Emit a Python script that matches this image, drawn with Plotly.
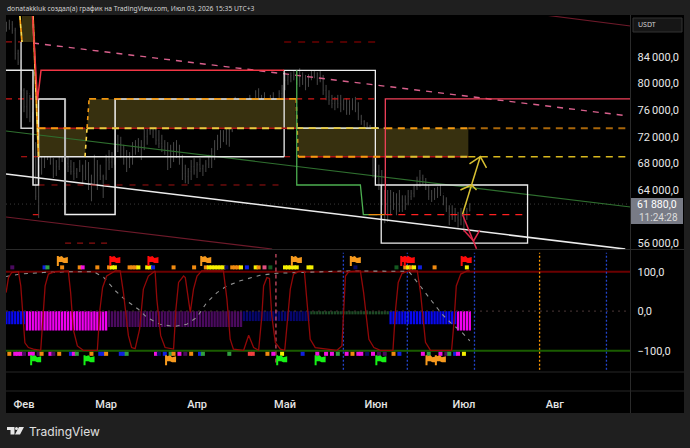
import plotly.graph_objects as go

W, H = 690, 448

# Days are counted from 1 February; negative values fall in late January.
month_days = [0, 28, 59, 89, 120, 150, 181]
month_labels = ["Фев", "Мар", "Апр", "Май", "Июн", "Июл", "Авг"]

candle_days = list(range(-6, 153))
first_open = 88000
highs = [89300, 89600, 89400, 88400, 85100, 83600,
         79300, 79000, 78300, 75700, 71200, 67800, 71800, 71500, 71100, 70000, 68800, 68500, 70000, 70800,
         70300, 69700, 68500, 68200, 67300, 68500, 67800, 68500, 68200, 66300, 69300, 68500, 67800, 66300,
         69300, 70000, 69700, 70500, 72300, 72000, 70800, 70000, 69700, 71200, 71500, 71800, 71500, 73300,
         73800, 75700, 74800, 73800, 73000, 72300, 71500, 71200, 70800, 71200, 71500, 70800, 69300, 67800,
         67300, 68500, 68800, 68200, 68800, 67800, 68500, 69300, 70300, 71500, 72300, 73000, 73000, 73300,
         74200, 76000, 78000, 76800, 76300, 76000, 76800, 78300, 77500, 79000, 79300, 78300, 78700, 77500,
         78300, 78700, 77800, 79000, 79800, 81700, 81300, 81700, 82000, 82000, 82300, 81700, 81300, 81400,
         82000, 82000, 81700, 82000, 81300, 79800, 79000, 78300, 78000, 78300, 78300, 77800, 77800, 77500,
         77800, 78000, 77200, 75300, 74500, 74200, 73800, 72300, 70000, 67800, 67000, 64000, 64000, 64000,
         63700, 63500, 64000, 63200, 63200, 64000, 64000, 64800, 66000, 67000, 66300, 65800, 64800, 64000,
         64300, 64500, 64800, 63200, 62900, 61700, 61700, 61300, 60700, 61300, 60700, 61300, 62000]
lows = [87800, 88100, 87500, 83600, 82800, 79000,
        75700, 74800, 74200, 70000, 62500, 59800, 66300, 67300, 68500, 67800, 65800, 66100, 67000, 68200,
        67000, 66700, 66300, 65500, 65800, 66700, 65000, 65500, 64000, 62300, 64800, 64000, 65500, 62800,
        65500, 67000, 67300, 67800, 69700, 68800, 67800, 66700, 67300, 67800, 69300, 69700, 68500, 70000,
        70800, 72300, 71800, 70800, 70300, 69700, 69300, 67000, 67300, 68200, 68800, 67800, 65500, 65000,
        64900, 65500, 66300, 65800, 66700, 66100, 66700, 67300, 67300, 68500, 70000, 70300, 71200, 70800,
        70500, 72700, 73800, 73300, 73800, 73800, 74200, 75300, 74800, 75700, 76300, 76000, 76800, 75300,
        75700, 75700, 74800, 76300, 77500, 79000, 79800, 80200, 80500, 79800, 79500, 79800, 79000, 79500,
        80500, 80800, 79800, 80200, 78300, 77500, 76800, 76300, 76000, 76300, 75700, 76000, 75300, 75300,
        76000, 75700, 74500, 73800, 73500, 73300, 72300, 65900, 65800, 64000, 61700, 59000, 59200, 60200,
        61000, 60200, 60700, 60700, 61000, 61700, 62500, 62900, 64000, 64500, 64800, 64000, 62500, 62200,
        62500, 62800, 63100, 61700, 60700, 58700, 59500, 59200, 58300, 58700, 57700, 59500, 60800]
closes = [88500, 88900, 88000, 84500, 83200, 79000,
          76500, 78500, 75000, 71000, 63000, 67000, 70500, 69000, 70000, 68000, 66500, 67500, 69000, 70000,
          68000, 67500, 66800, 66500, 67000, 67500, 66000, 67500, 64800, 65500, 67800, 66200, 66000, 65800,
          68500, 68200, 69000, 69800, 71000, 70000, 68500, 68000, 68800, 70000, 70500, 70200, 70500, 72000,
          73000, 73500, 73000, 71500, 71000, 70500, 70000, 68500, 69500, 70000, 69500, 68000, 66500, 66000,
          66800, 67500, 67000, 67800, 67200, 67600, 67900, 68800, 69800, 70500, 71000, 71800, 72000, 71500,
          73000, 74500, 75000, 74500, 75000, 75200, 76000, 76500, 76000, 77800, 77000, 77500, 77000, 76500,
          77500, 76500, 77000, 78500, 79200, 80500, 81000, 81200, 81000, 80500, 81000, 80500, 80000, 81000,
          81500, 81000, 80500, 80800, 79000, 78000, 77500, 77000, 77500, 77000, 76800, 77200, 76000, 76800,
          77200, 76000, 75000, 74300, 73900, 73500, 72500, 67000, 66800, 65000, 62500, 60500, 61500, 62500,
          62000, 62800, 61500, 62500, 62000, 63000, 63500, 64500, 65500, 65800, 65200, 64700, 63000, 63500,
          63800, 63200, 63500, 62000, 61200, 60000, 60500, 59800, 59500, 60200, 59200, 60800, 61880]
opens = [first_open] + closes[:-1]
last_price = closes[-1]

# Horizontal price levels the boxes and dashes snap to.
L_TOP, L86, L82, L777, L733, L69, L6475, L603, L56 = 90166, 86260, 82000, 77700, 73300, 69000, 64750, 60300, 56000
X_L, X_R = -6.14, 206.8

# Oscillator pane.
osc_days = [-6.1, -5.3, -4.2, -1.9, -1.1, -0.2, 0.3, 1.5, 3.2, 5.7, 6.4, 7.2, 8.3, 10.6, 15.1, 15.9, 16.8, 18.2,
            20.2, 25.0, 25.9, 26.8, 28.2, 31.1, 32.8, 33.9, 35.6, 36.7, 37.9, 39.4, 40.7, 42.4, 44.7, 45.3, 46.6,
            48.1, 51.0, 51.8, 52.7, 54.4, 55.0, 56.7, 57.8, 59.0, 60.6, 68.0, 69.2, 70.3, 71.4, 74.9, 76.6, 78.3,
            80.0, 81.1, 81.7, 82.8, 83.7, 84.5, 85.7, 87.4, 88.9, 89.9, 90.8, 91.9, 93.6, 95.6, 96.5, 97.6, 99.3,
            106.7, 108.4, 109.2, 109.6, 110.7, 114.7, 115.8, 117.6, 119.3, 121.5, 125.8, 126.7, 127.6, 128.9,
            131.2, 134.1, 135.2, 136.9, 138.6, 145.8, 146.6, 147.4, 148.9, 151.1, 152.0]
osc_vals = [47, 85, 98, 100, 64, -46, -80, -92, -96, -99, -20, 64, 94, 100, 102, 47, -46, -88,
            -99, -99, 5, 60, 89, 102, 102, 47, -62, -92, -95, -46, 56, 89, 102, 30, -62,
            -92, -96, 5, 73, 89, 85, -3, 56, 89, 102, 102, 30, -71, -96, -99, -61, -92,
            -99, -12, 64, 85, 83, -12, -79, -96, -99, -12, 56, 94, 101, 101, 22, -71, -92,
            -99, -88, 30, 89, 100, 102, 47, -71, -92, -99, -99, 5, 73, 96,
            102, 102, 47, -79, -99, -99, -29, 64, 94, 102, 102]
signal_days = [-6.1, -1.4, 6.6, 14.6, 23.7, 27.1, 31.1, 34.5, 39.0, 41.9, 46.4, 51.0, 55.5, 58.9, 62.3, 65.8, 69.2,
               73.7, 80.5, 86.2, 94.2, 109.6, 131.2, 132.4, 135.8, 139.2, 142.6, 146.0, 148.9, 152.0]
signal_vals = [88, 94, 98, 100, 100, 86, 52, 29, 5, -16, -33, -39, -33, -16, 22, 47, 64,
               77, 91, 96, 98, 102, 101, 90, 57, 24, -8, -33, -50, -75]

hist_starts = [-6, 1, 29, 75, 98, 125, 148]
hist_ends = [0, 28, 74, 97, 124, 147, 152]
hist_values = [-33, -49, -40, -25, -8, -33, -49]
hist_colors = ["#0808f0", "#f000f0", "#4a0a5e", "#06066e", "#1e4a26", "#0808f0", "#f000f0"]

ORG, YEL, BLU, MAG, PUR, GRN, NAV, PNK, RED = ("#f08a10", "#f5f000", "#1020e0", "#f010e0", "#4a0a5e", "#30a040",
                                                "#0a0a60", "#e05080", "#f04040")
top_days = [-4, 7, 8, 13, 19, 20, 25, 29, 30, 31, 36, 37, 38, 39, 42, 43, 44, 51, 58, 62, 63, 64, 65, 66, 67, 68, 69,
            71, 72, 73, 74, 76, 79, 80, 82, 84, 89, 90, 91, 92, 93, 97, 98, 113, 127, 130, 131, 132, 133, 135, 140, 151]
top_colors = [PUR, BLU, GRN, ORG, ORG, MAG, ORG, ORG, YEL, YEL, ORG, ORG, ORG, YEL, YEL, YEL, BLU, ORG, ORG, ORG, YEL,
              YEL, YEL, YEL, YEL, YEL, NAV, ORG, ORG, ORG, YEL, BLU, YEL, ORG, PNK, "#145a20", YEL, YEL, YEL, YEL, YEL,
              YEL, YEL, NAV, "#145a20", ORG, YEL, ORG, YEL, BLU, ORG, YEL]
bottom_days = [-5, -3, -2, -1, 0, 2, 3, 5, 6, 9, 10, 12, 16, 17, 18, 23, 26, 27, 28, 33, 34, 35, 45, 46, 48, 50, 51,
               53, 55, 57, 60, 61, 70, 77, 78, 83, 85, 88, 95, 100, 103, 105, 107, 110, 112, 114, 115, 117, 119, 121,
               123, 126, 128, 136, 138, 142, 144, 145, 147, 148, 150]
bottom_colors = [ORG, MAG, MAG, MAG, PUR, MAG, MAG, PUR, ORG, MAG, PUR, ORG, BLU, MAG, GRN, ORG, BLU, BLU, ORG, BLU, BLU,
                 GRN, MAG, NAV, BLU, GRN, ORG, MAG, PUR, ORG, BLU, GRN, GRN, RED, RED, ORG, MAG, YEL, BLU, MAG, MAG,
                 MAG, GRN, MAG, ORG, MAG, MAG, NAV, MAG, PUR, PUR, ORG, BLU, MAG, GRN, MAG, PUR, GRN, BLU, MAG, YEL]

flag_top_days = [12.9, 30.8, 43.8, 61.8, 92.7, 112.8, 130, 131.2, 150.6]
flag_top_colors = ["#f79a1e", "#ff0a0a", "#ff0a0a", "#f79a1e", "#f79a1e", "#f79a1e", "#ff0a0a", "#ff0a0a", "#ff0a0a"]
flag_bottom_days = [3.8, 22, 49.8, 87.7, 100.8, 121.5, 138.6, 141.8]
flag_bottom_colors = ["#16f016", "#16f016", "#f79a1e", "#16f016", "#16f016", "#16f016", "#f79a1e", "#f79a1e"]

session_days = [108.9, 130.7, 153.6, 175.8, 198.6]
session_colors = ["#2244cc", "#2244cc", "#2244cc", "#ff9800", "#2244cc"]
signal_marker_day = 85.9

fig = go.Figure()


def path(xs, ys, color, width=1.0, dash="solid", axis="y"):
    fig.add_trace(go.Scatter(x=xs, y=ys, mode="lines", xaxis="x" if axis == "y" else "x2", yaxis=axis,
                             line=dict(color=color, width=width, dash=dash), hoverinfo="skip", showlegend=False))


def cloud(xs, ys):
    fig.add_trace(go.Scatter(x=xs, y=ys, mode="lines", fill="toself", fillcolor="#37300f",
                             line=dict(width=0), hoverinfo="skip", showlegend=False))


# Shaded zones sit beneath the bars.
cloud([-0.7, 3.07, 3.9, -0.7], [L_TOP, L_TOP, L86, L86])
cloud([4.95, 21.4, 20.8, 4.95], [L733, L733, L69, L69])
cloud([21.5, 22.2, 92.5, 92.8], [L733, L777, L777, L733])
cloud([93.5, 151.5, 151.5, 93.5], [L733, L733, L69, L69])

# Daily price bars.
fig.add_trace(go.Ohlc(x=candle_days, open=opens, high=highs, low=lows, close=closes, tickwidth=0.12,
                      increasing=dict(line=dict(color="#484848", width=1)),
                      decreasing=dict(line=dict(color="#484848", width=1)),
                      hoverinfo="skip", showlegend=False))

# Last price guide.
path([X_L, X_R], [last_price, last_price], "#3a3a3a", 1, "1px,3px")

# Trend channels.
path([X_L, X_R], [72870, 61440], "#2f6f2f", 1.1)
path([3.07, 206.1], [86100, 75130], "#d9608c", 1.4, "6px,6px")
path([X_L, 84.6], [59940, 55120], "#6e1a2a", 1.1)
path([177.8, X_R], [90300, 88660], "#6e1a2a", 1.1)
path([X_L, 205], [66400, 55120], "#ececec", 1.6)

# Dashed pivot levels.
path([X_L, -1], [L86, L86], "#a01010", 1.2, "6px,6px")
path([88.7, 119.8], [L86, L86], "#6a0000", 1.4, "7px,7px")
path([X_L, 3.07], [L777, L777], "#d41818", 1.2, "6px,6px")
path([88.7, 119.8], [L777, L777], "#d41818", 1.2, "6px,6px")
path([-1, 4.95], [L69, L69], "#d41818", 1.2, "6px,6px")
path([88.7, 92.5], [L69, L69], "#d41818", 1.2, "6px,6px")
path([4.95, 88.7], [L6475, L6475], "#a01212", 1, "6px,7px")
path([3, 4.95], [L603, L603], "#d41818", 1.2)
path([123.2, 171.7], [L603, L603], "#ff2020", 1.3, "7px,6px")
path([14, 28.7], [L56, L56], "#8a1010", 1.2, "6px,6px")

# Stepped range boxes.
path([-1, -1, 3.07], [L86, L733, L733], "#cfcfcf", 1.5)
path([92.8, 121], [L733, L733], "#d8d8c0", 1.6)
path([X_L, 3.07, 3.07, 4.95, 4.95, 88.7], [L82, L82, L6475, L6475, L69, L69], "#e8e8e8", 1.5)
path([4.95, 4.95, 14, 14, 31.06, 31.06, 88.7], [L69, L777, L777, L603, L603, L777, L777], "#f2f2f2", 1.5)
path([14, 14], [L777, L603], "#b8b8b8", 2)
path([88.7, 88.7, 119.8, 119.8, 171.7, 171.7, 121.8, 121.8],
     [L69, L82, L82, L6475, L6475, L56, L56, L6475], "#eeeeee", 1.3)

# Zone borders: a red base line with coloured dashes laid over it.
ZONE_DASH = "7px,5.5px"
for xs, ys, dash_color in (([4.95, 20.8], [L733, L733], "#f59a12"),
                           ([21.5, 92.8], [L733, L733], "#e8cc40"),
                           ([93.5, 123.2], [L69, L69], "#f59a12"),
                           ([123.2, 151.5], [L69, L69], "#dcc030")):
    path(xs, ys, "#b01414", 1.5)
    path(xs, ys, dash_color, 2, ZONE_DASH)
path([22.2, 92.8], [L777, L777], "#f0960f", 1.6, ZONE_DASH)
path([92.8, 123.2], [L733, L733], "#e8cc40", 1.8, ZONE_DASH)
path([123.2, 151.5], [L733, L733], "#f59a12", 2, ZONE_DASH)
path([151.5, 206.8], [L733, L733], "#a8660a", 2, ZONE_DASH)
path([151.5, 206.8], [L69, L69], "#d8b81e", 1.6, ZONE_DASH)

# Slanted zone edges alternate yellow and orange.
for xs, ys in (([3.07, 4.95], [L_TOP, L69]),
               ([-1.4, -0.7], [L_TOP, L86])):
    path(xs, ys, "#ffd84a", 1.8, "4px,4px")
    path(xs, ys, "#f59a12", 1.8, "0px,4px,4px,0px")
path([20.8, 21.5], [L69, L733], "#ffd84a", 1.6, "4px,4px")
path([21.5, 22.2], [L733, L777], "#f59a12", 1.6, "4px,4px")
path([92.8, 93.5], [L777, L69], "#f59a12", 1.6, "4px,4px")

# Solid red and green step lines.
path([2.9, 4.6, 5.8, 88.7], [L_TOP, 77500, L82, L82], "#f23645", 1.5)
path([123.2, 123.2, X_R], [L603, L777, L777], "#f2405a", 1.3)
path([93, 93, 114.7, 115.7, 120.5], [L82, L6475, L6475, L603, L603], "#4caf50", 1.3)
path([117.5, 123], [L603, L603], "#f08a10", 1.3)

# Projection arrows.
path([149.5, 152.6], [60300, 64750], "#d8c032", 1.5)
path([148.8, 152.6, 154.3], [64000, 64750, 64000], "#d8c032", 1.5)
path([152.6, 155.6], [64750, 69030], "#d8c032", 1.5)
path([151.9, 155.6, 157.7], [67930, 69030, 67330], "#d8c032", 1.5)
path([149.5, 154.3], [60300, 55150], "#e0284a", 1.5)
path([149.9, 153.3, 155.4], [57970, 56330, 57970], "#e0284a", 1.5)

# Oscillator pane: histogram first, then bounds, lines and signal rows.
for start, end, value, color in zip(hist_starts, hist_ends, hist_values, hist_colors):
    days = list(range(start, end + 1))
    fig.add_trace(go.Bar(x=days, y=[value] * len(days), xaxis="x2", yaxis="y2", width=0.78,
                         marker=dict(color=color, line=dict(width=0)), hoverinfo="skip", showlegend=False))

path([X_L, X_R], [0, 0], "#3c2c2c", 1.2, "2px,4px", axis="y2")
path([X_L, X_R], [100, 100], "#6b0000", 2, axis="y2")
path([X_L, X_R], [-100, -100], "#1a5c00", 2, axis="y2")
for day, color in zip(session_days, session_colors):
    path([day, day], [-148, 148], color, 1.3, "2px,2px", axis="y2")
path([signal_marker_day, signal_marker_day], [-130, 145], "#d9506c", 1.2, "4px,3px", axis="y2")
path(signal_days, signal_vals, "#909090", 1.1, "4px,5px", axis="y2")
path(osc_days, osc_vals, "#920808", 1.3, axis="y2")

for days, colors, level in ((top_days, top_colors, 111), (bottom_days, bottom_colors, -108)):
    fig.add_trace(go.Scatter(x=days, y=[level] * len(days), mode="markers", xaxis="x2", yaxis="y2",
                             marker=dict(symbol="square", size=4, color=colors, line=dict(width=0)),
                             hoverinfo="skip", showlegend=False))


def px(x):
    return x / W


def py(y):
    return 1 - y / H


# Flag outline, sized in screen pixels around its anchor (y grows upward).
FLAG_OUTLINE = "M -5 -5 L -5 5 L -3 5 L -3 4 L 0 5 L 2 3 L 6 4 L 6 -2 L 2 -2 L 0 -1 L -3 -1 L -3 -5 Z"
flag_levels = [(flag_top_days, flag_top_colors, 127), (flag_bottom_days, flag_bottom_colors, -124)]
flag_shapes = [dict(type="path", xref="x2", yref="y2", xsizemode="pixel", ysizemode="pixel",
                    xanchor=day, yanchor=level, path=FLAG_OUTLINE, fillcolor=color, line=dict(width=0))
               for days, colors, level in flag_levels for day, color in zip(days, colors)]

price_ticks = [56000, 64000, 68000, 72000, 76000, 80000, 84000]
price_labels = ["56\u2009000,0", "64\u2009000,0", "68\u2009000,0", "72\u2009000,0", "76\u2009000,0", "80\u2009000,0",
                "84\u2009000,0"]
osc_ticks = [-100, 0, 100]
osc_labels = ["\u2212100,0", "0,0", "100,0"]

PANE_L, PANE_R, PANE_T, PANE_B = 6, 630.5, 16, 249
SUB_T, SUB_B = 250, 372

shapes = [
    dict(type="rect", xref="paper", yref="paper", x0=px(6), x1=px(684), y0=py(413), y1=py(15),
         fillcolor="#000000", line=dict(width=0), layer="below"),
    dict(type="line", xref="paper", yref="paper", x0=px(630.5), x1=px(630.5), y0=py(413), y1=py(15),
         line=dict(color="#2a2a2a", width=1)),
    dict(type="line", xref="paper", yref="paper", x0=px(6), x1=px(684), y0=py(249.5), y1=py(249.5),
         line=dict(color="#2a2a2a", width=1)),
    dict(type="line", xref="paper", yref="paper", x0=px(6), x1=px(684), y0=py(372), y1=py(372),
         line=dict(color="#262626", width=1)),
    dict(type="line", xref="paper", yref="paper", x0=px(6), x1=px(684), y0=py(391), y1=py(391),
         line=dict(color="#262626", width=1)),
    # Currency selector and last-price badge on the scale.
    dict(type="rect", xref="paper", yref="paper", x0=px(633), x1=px(682), y0=py(32), y1=py(18),
         fillcolor="#161616", line=dict(color="#333333", width=1)),
    dict(type="rect", xref="paper", yref="paper", x0=px(631), x1=px(683), y0=py(224), y1=py(198),
         fillcolor="#787b86", line=dict(width=0)),
    # TradingView mark.
    dict(type="path", xref="paper", yref="paper",
         path=f"M {px(7)} {py(427)} L {px(14.5)} {py(427)} L {px(14.5)} {py(434.5)} L {px(10.5)} {py(434.5)} "
              f"L {px(10.5)} {py(430)} L {px(7)} {py(430)} Z",
         fillcolor="#e6e6e6", line=dict(width=0)),
    dict(type="path", xref="paper", yref="paper",
         path=f"M {px(19)} {py(427)} L {px(24)} {py(427)} L {px(20)} {py(434.5)} L {px(15)} {py(434.5)} Z",
         fillcolor="#e6e6e6", line=dict(width=0)),
    dict(type="circle", xref="paper", yref="paper", x0=px(15), x1=px(18), y0=py(430), y1=py(427),
         fillcolor="#e6e6e6", line=dict(width=0)),
] + flag_shapes

annotations = [
    dict(text="donatakkluk создал(а) график на TradingView.com, Июл 03, 2026 15:35 UTC+3", x=px(4.5), y=py(9),
         xref="paper", yref="paper", xanchor="left", yanchor="middle", showarrow=False,
         font=dict(family="Noto Sans", size=6.7, color="#d4d4d4")),
    dict(text="USDT", x=px(635.5), y=py(25), xref="paper", yref="paper", xanchor="left", yanchor="middle",
         showarrow=False, font=dict(family="Noto Sans", size=7, color="#d0d0d0")),
    dict(text="61\u2009880,0", x=px(635), y=py(204.5), xref="paper", yref="paper", xanchor="left", yanchor="middle",
         showarrow=False, font=dict(family="Roboto", size=10.5, color="#ffffff")),
    dict(text="11:24:28", x=px(637), y=py(217.5), xref="paper", yref="paper", xanchor="left", yanchor="middle",
         showarrow=False, font=dict(family="Roboto", size=10, color="#dcdcdc")),
    dict(text="TradingView", x=px(26.5), y=py(431), xref="paper", yref="paper", xanchor="left", yanchor="middle",
         showarrow=False, font=dict(family="Inter", size=12, color="#e0e0e0")),
]

fig.update_layout(
    width=W, height=H, margin=dict(l=0, r=0, t=0, b=0), autosize=False,
    paper_bgcolor="#1f1f1f", plot_bgcolor="rgba(0,0,0,0)", showlegend=False, barmode="overlay",
    shapes=shapes, annotations=annotations,
    xaxis=dict(domain=[px(PANE_L), px(PANE_R)], range=[X_L, X_R], anchor="y", showticklabels=False,
               showgrid=False, zeroline=False, showline=False, ticks="", rangeslider=dict(visible=False)),
    yaxis=dict(domain=[py(PANE_B), py(PANE_T)], range=[55123, L_TOP], side="right", anchor="x",
               tickmode="array", tickvals=price_ticks, ticktext=price_labels, showgrid=False, zeroline=False,
               showline=False, ticks="", ticklabelstandoff=6,
               tickfont=dict(family="Roboto", size=11, color="#e8e8e8")),
    xaxis2=dict(domain=[px(PANE_L), px(PANE_R)], range=[X_L, X_R], anchor="free", position=py(391),
                tickmode="array", tickvals=month_days, ticktext=month_labels, showgrid=False, zeroline=False,
                showline=False, ticks="", ticklabelstandoff=5,
                tickfont=dict(family="Roboto", size=11, color="#e4e4e4", weight=500)),
    yaxis2=dict(domain=[py(SUB_B), py(SUB_T)], range=[-154, 155], side="right", anchor="x2",
                tickmode="array", tickvals=osc_ticks, ticktext=osc_labels, showgrid=False, zeroline=False,
                showline=False, ticks="", ticklabelstandoff=6,
                tickfont=dict(family="Roboto", size=11, color="#e8e8e8")),
)

fig.write_html("out.html", config=dict(displayModeBar=False))
